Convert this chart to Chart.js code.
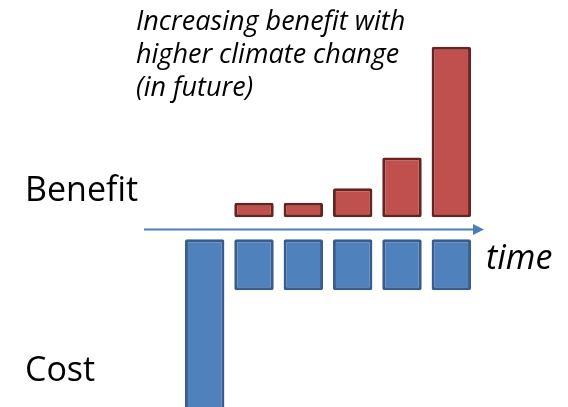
<!DOCTYPE html>
<html>
<head>
<meta charset="utf-8">
<script src="https://cdn.jsdelivr.net/npm/chart.js@4"></script>
<style>
  html, body { margin: 0; padding: 0; background: #ffffff; }
  #wrap { width: 568px; height: 407px; position: relative; }
</style>
</head>
<body>
<div id="wrap"><canvas id="c" width="568" height="407"></canvas></div>
<script>
// Time steps along the horizontal axis
const periods = ['t0', 't1', 't2', 't3', 't4', 't5'];
// Benefit grows with climate change over time (none in the first period)
const benefit = [0, 1, 1, 2, 4.1, 11.7];
// Up-front cost in the first period, then a steady running cost
const cost = [12, 3.5, 3.5, 3.5, 3.5, 3.5];

const noteLines = ['Increasing benefit with', 'higher climate change', '(in future)'];
const sideLabels = { benefit: 'Benefit', cost: 'Cost', axis: 'time' };

// Gap kept between the time axis and each group of bars (value units)
const GAP = 0.8;
const COST_GAP = 0.7;

const RED = '#C0504D', RED_EDGE = '#672321';
const BLUE = '#4F81BD', BLUE_EDGE = '#385D8A';
const ARROW = '#4A7EBB';
const FONT = '"Open Sans", Lato, sans-serif';

const arrowAndText = {
  id: 'arrowAndText',
  afterDatasetsDraw(chart) {
    const { ctx, scales: { x, y } } = chart;
    const y0 = Math.round(y.getPixelForValue(0)) + 0.5;
    const xStart = x.left - 36;
    const xEnd = x.right + 8;
    ctx.save();
    // time axis with arrowhead
    ctx.strokeStyle = ARROW;
    ctx.lineWidth = 2;
    ctx.beginPath();
    ctx.moveTo(xStart, y0);
    ctx.lineTo(xEnd - 8, y0);
    ctx.stroke();
    ctx.fillStyle = ARROW;
    ctx.beginPath();
    ctx.moveTo(xEnd, y0);
    ctx.lineTo(xEnd - 11, y0 - 5.5);
    ctx.lineTo(xEnd - 11, y0 + 5.5);
    ctx.closePath();
    ctx.fill();

    ctx.fillStyle = '#000000';
    ctx.textBaseline = 'alphabetic';
    ctx.textAlign = 'left';
    ctx.font = '34px ' + FONT;
    ctx.fillText(sideLabels.benefit, 25, 201);
    ctx.fillText(sideLabels.cost, 25, 381);
    ctx.font = 'italic 34px ' + FONT;
    ctx.fillText(sideLabels.axis, 486, 269);
    ctx.font = 'italic 27px ' + FONT;
    noteLines.forEach((t, i) => ctx.fillText(t, 136, 30 + i * 33));
    ctx.restore();
  }
};

new Chart(document.getElementById('c'), {
  type: 'bar',
  data: {
    labels: periods,
    datasets: [
      {
        label: 'Benefit',
        data: benefit.map(v => (v > 0 ? [GAP, GAP + v] : null)),
        backgroundColor: RED,
        borderColor: RED_EDGE,
        borderWidth: 3,
        borderRadius: 2,
        borderSkipped: false
      },
      {
        label: 'Cost',
        data: cost.map(v => [-COST_GAP, -COST_GAP - v]),
        backgroundColor: BLUE,
        borderColor: BLUE_EDGE,
        borderWidth: 3,
        borderRadius: 2,
        borderSkipped: false
      }
    ]
  },
  options: {
    responsive: false,
    animation: false,
    events: [],
    layout: { padding: { left: 180, right: 92, top: 0, bottom: 0 } },
    plugins: { legend: { display: false }, tooltip: { enabled: false } },
    datasets: { bar: { grouped: false, categoryPercentage: 1, barPercentage: 0.8 } },
    scales: {
      x: { display: false },
      y: { display: false, min: -12.2, max: 15.7 }
    }
  },
  plugins: [arrowAndText]
});
</script>
</body>
</html>
